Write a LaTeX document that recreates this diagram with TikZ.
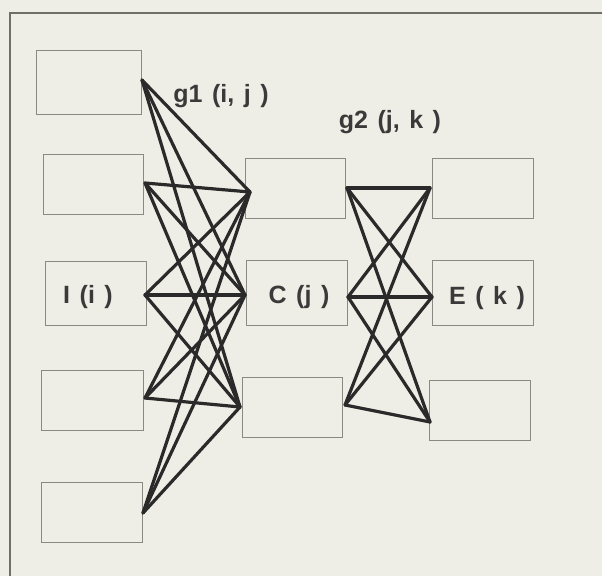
\documentclass[tikz,border=0pt]{standalone}
\usepackage{fontspec}
\setmainfont{Liberation Sans}
\definecolor{paper}{HTML}{EFEEE6}
\definecolor{ink}{HTML}{2A2A2A}
\definecolor{boxline}{HTML}{8A8A85}
\definecolor{txt}{HTML}{3A3A3A}
\newcommand\lblfont{\fontsize{25}{29}\selectfont\bfseries\spaceskip=9.5pt\relax}
\begin{document}
\begin{tikzpicture}[x=1pt,y=-1pt,
  unit/.style={draw=boxline,line width=0.9pt,minimum width=#1,inner sep=0pt},
  lbl/.style={text=txt,font=\lblfont,inner sep=0pt},
  link/.style={draw=ink,line width=3.2pt,line cap=round}]
\fill[paper] (0,0) rectangle (602,576);
\useasboundingbox (0,0) rectangle (602,576);
\draw[draw=boxline!80!black,line width=1.6pt] (10,576) -- (10,13) -- (602,13);
% layer I
\node[unit=105pt,minimum height=64pt] (I1) at (88.5,82) {};
\node[unit=100pt,minimum height=60pt] (I2) at (93,184) {};
\node[unit=101pt,minimum height=64pt] (I3) at (95.5,293) {};
\node[unit=102pt,minimum height=60pt] (I4) at (92,400) {};
\node[unit=101pt,minimum height=60pt] (I5) at (91.5,512) {};
% layer C
\node[unit=100pt,minimum height=60pt] (C1) at (295,188) {};
\node[unit=101pt,minimum height=65pt] (C2) at (296.5,292.5) {};
\node[unit=100pt,minimum height=60pt] (C3) at (292,407) {};
% layer E
\node[unit=101pt,minimum height=60pt] (E1) at (482.5,188) {};
\node[unit=101pt,minimum height=65pt] (E2) at (482.5,292.5) {};
\node[unit=101pt,minimum height=60pt] (E3) at (479.5,410) {};
% ports
\coordinate (i1o) at (142,80);
\coordinate (i2o) at (145,183);
\coordinate (i3o) at (145,295);
\coordinate (i4o) at (145,398);
\coordinate (i5o) at (143,513);
\coordinate (c1i) at (250,192);
\coordinate (c2i) at (245,295);
\coordinate (c3i) at (240,407);
\coordinate (c1o) at (347,188);
\coordinate (c2o) at (348,297);
\coordinate (c3o) at (345,405);
\coordinate (e1i) at (430,188);
\coordinate (e2i) at (432,297);
\coordinate (e3i) at (430,422);
% connections
\foreach \a in {i1o,i2o,i3o,i4o,i5o}{
  \foreach \b in {c1i,c2i,c3i}{
    \draw[link] (\a) -- (\b);
  }
}
\foreach \a in {c1o,c2o,c3o}{
  \foreach \b in {e1i,e2i,e3i}{
    \draw[link] (\a) -- (\b);
  }
}
% labels
\node[lbl] (g1) at (221,96) {g1 (i, j )};
\node[lbl] (g2) at (390,122) {g2 (j, k )};
\node[lbl] (Ii) at (88,297) {I (i )};
\node[lbl] (Cj) at (299,297) {C (j )};
\node[lbl] (Ek) at (487,298) {E ( k )};
\end{tikzpicture}
\end{document}
